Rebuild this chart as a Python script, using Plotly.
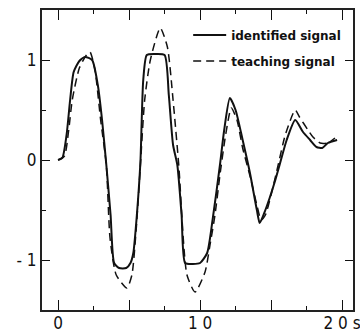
import plotly.graph_objects as go

# identified (model output) signal
t_ident = [0, 0.3, 0.6, 0.85, 1.1, 1.5, 1.9, 2.4, 2.8, 3.1, 3.4, 3.7, 3.95, 4.3, 4.8, 5.1, 5.3,
           5.55, 5.8, 6.0, 6.25, 6.8, 7.5, 7.8, 8.1, 8.4, 8.7, 8.95, 9.5, 10.0, 10.5, 10.9, 11.4,
           11.7, 12.1, 12.5, 13.0, 13.5, 14.0, 14.2, 14.6, 14.9, 15.3, 15.6, 16.1, 16.7, 17.25,
           17.75, 18.2, 18.6, 19.0, 19.65]
v_ident = [0, 0.02, 0.25, 0.6, 0.88, 0.99, 1.03, 1.0, 0.75, 0.4, -0.05, -0.55, -1.03, -1.08,
           -1.08, -1.03, -0.93, -0.55, -0.02, 0.8, 1.05, 1.06, 1.05, 0.65, 0.15, -0.05, -0.55,
           -1.03, -1.04, -1.03, -0.93, -0.58, -0.05, 0.3, 0.62, 0.5, 0.2, -0.12, -0.5, -0.63,
           -0.5, -0.38, -0.2, -0.05, 0.2, 0.4, 0.28, 0.2, 0.13, 0.12, 0.17, 0.2]

# teaching (reference) signal
t_teach = [0, 0.45, 0.75, 1.0, 1.5, 2.0, 2.25, 2.6, 3.0, 3.4, 3.66, 4.1, 4.85, 5.2, 5.5, 5.8,
           6.1, 6.5, 7.2, 7.7, 8.1, 8.5, 9.08, 9.65, 10.35, 10.7, 11.05, 11.4, 11.8, 12.2, 12.6,
           13.0, 13.5, 14.0, 14.3, 14.6, 15.0, 15.5, 16.0, 16.7, 17.0, 17.6, 17.95, 18.45, 19.0,
           19.5]
v_teach = [0, 0.04, 0.3, 0.6, 0.92, 1.05, 1.08, 0.9, 0.4, -0.05, -0.78, -1.15, -1.28, -1.15,
           -0.7, -0.05, 0.6, 1.0, 1.32, 1.13, 0.6, -0.05, -1.15, -1.32, -1.12, -0.85, -0.55,
           -0.15, 0.25, 0.52, 0.4, 0.12, -0.15, -0.45, -0.6, -0.55, -0.35, -0.05, 0.25, 0.5,
           0.43, 0.3, 0.23, 0.17, 0.17, 0.22]

x_tickvals = [0, 5, 10, 15, 20]
x_ticktext = ["0", "", "1 0", "", "2 0 s"]
y_tickvals = [-1, 0, 1]
y_ticktext = ["- 1", "0", "1"]

fig = go.Figure()
fig.add_trace(go.Scatter(
    x=t_ident, y=v_ident, mode="lines", name="<b>identified signal</b>",
    line=dict(color="#111111", width=2, shape="spline", smoothing=0.6),
    legendgroup="a",
))
fig.add_trace(go.Scatter(
    x=t_teach, y=v_teach, mode="lines", name="<b>teaching signal</b>",
    line=dict(color="#111111", width=1.5, dash="8px,5px", shape="spline", smoothing=0.6),
    legendgroup="b",
))

tick_font = dict(family="Liberation Sans Narrow, DejaVu Sans Condensed, sans-serif",
                 size=17, color="#111111")
axis_common = dict(
    showline=True, linecolor="#222222", linewidth=2, mirror="ticks",
    ticks="inside", tickcolor="#111111", tickwidth=1.3,
    showgrid=False, zeroline=False, automargin=False, tickfont=tick_font,
)

fig.update_xaxes(range=[-1.13, 20.77], tickmode="array", tickvals=x_tickvals,
                 ticktext=x_ticktext, ticklen=10, ticklabeloverflow="allow",
                 ticklabelstandoff=-3,
                 minor=dict(dtick=2.5, tick0=0, ticklen=4, ticks="inside",
                            tickcolor="#111111", showgrid=False),
                 **axis_common)
fig.update_yaxes(range=[-1.5, 1.5], tickmode="array", tickvals=y_tickvals,
                 ticktext=y_ticktext, ticklen=8,
                 minor=dict(dtick=0.5, tick0=0, ticklen=4, ticks="inside",
                            tickcolor="#111111", showgrid=False),
                 **axis_common)

fig.update_layout(
    width=360, height=335,
    margin=dict(l=42, r=7, t=10, b=25),
    paper_bgcolor="white", plot_bgcolor="white",
    showlegend=True,
    legend=dict(x=0.47, y=0.965, xanchor="left", yanchor="top",
                bgcolor="rgba(0,0,0,0)", tracegroupgap=7, itemwidth=33,
                font=dict(family="DejaVu Sans, sans-serif", size=12, color="#111111")),
)

fig.write_html("out.html")
